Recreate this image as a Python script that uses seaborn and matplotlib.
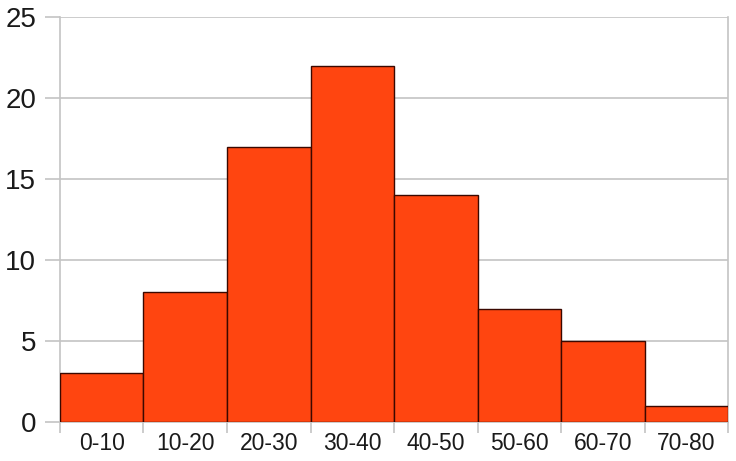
import numpy as np
import pandas as pd
import matplotlib.pyplot as plt
from matplotlib.ticker import FixedLocator
import seaborn as sns

# class intervals and their frequencies
intervals = ['0-10', '10-20', '20-30', '30-40', '40-50', '50-60', '60-70', '70-80']
counts = [3, 8, 17, 22, 14, 7, 5, 1]
y_ticks = [0, 5, 10, 15, 20, 25]

df = pd.DataFrame({'Interval': intervals, 'Count': counts})

sns.set_style('white')
plt.rcParams['font.family'] = ['Liberation Sans', 'DejaVu Sans']

fig = plt.figure(figsize=(7.36, 4.61), dpi=100)
ax = fig.add_axes([0.0815, 0.0846, 0.9077, 0.8785])

sns.barplot(data=df, x='Interval', y='Count', color='#ff4510', saturation=1,
            width=1.0, edgecolor='#3a0800', linewidth=1.0, ax=ax, zorder=3)

ax.set_xlim(-0.5, len(intervals) - 0.5)
ax.set_ylim(0, 25)
ax.set_yticks(y_ticks)
ax.yaxis.grid(True, color='#c4c4c4', linewidth=1.2, zorder=0)
ax.set_axisbelow(True)

# tick marks at the class boundaries, labels centred under each bar
ax.xaxis.set_minor_locator(FixedLocator(np.arange(-0.5, len(intervals), 1.0)))
ax.tick_params(axis='x', which='major', bottom=True, length=0, labelsize=16.5,
               pad=7, colors='#1a1a1a')
ax.tick_params(axis='x', which='minor', bottom=True, length=8, width=1.2, color='#c4c4c4')
ax.tick_params(axis='y', which='major', left=True, length=11, width=1.2, color='#c4c4c4',
               labelsize=20, pad=6, labelcolor='#1a1a1a')

for side in ['left', 'bottom', 'right']:
    ax.spines[side].set_visible(True)
    ax.spines[side].set_color('#c4c4c4')
    ax.spines[side].set_linewidth(1.2)
ax.spines['top'].set_visible(False)

ax.set_xlabel('')
ax.set_ylabel('')

plt.savefig('out.png', dpi=100)
